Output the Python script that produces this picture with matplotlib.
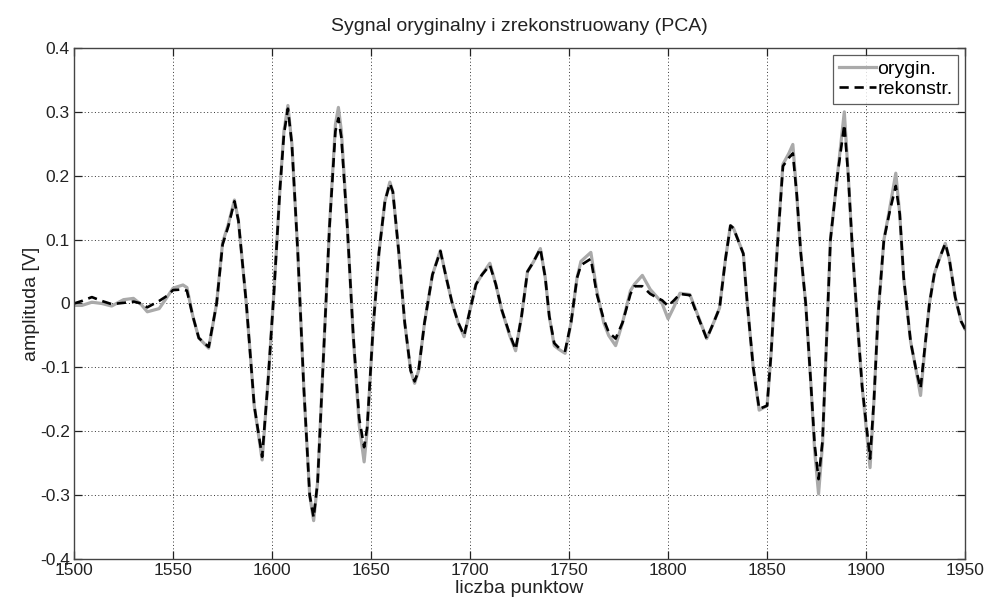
import matplotlib
matplotlib.use("Agg")
import matplotlib.pyplot as plt
from matplotlib.ticker import FuncFormatter

plt.rcParams['font.family'] = ['Liberation Sans', 'DejaVu Sans']
plt.rcParams['axes.unicode_minus'] = False

# sample index, original signal, PCA reconstruction
idx = [1500, 1504, 1509, 1514, 1519, 1525, 1530, 1534, 1537, 1543, 1547, 1550,
       1555, 1557, 1560, 1563, 1568, 1572, 1575, 1578, 1581, 1583, 1587, 1591,
       1595, 1598, 1601, 1604, 1606, 1608, 1610, 1613, 1616, 1619, 1621, 1623,
       1626, 1629, 1632, 1633.5, 1635, 1638, 1641, 1644, 1646.5, 1648, 1651, 1654,
       1657, 1659.5, 1661, 1664, 1667, 1670, 1672, 1674, 1677, 1681, 1685, 1688,
       1691, 1694, 1697, 1700, 1703, 1706, 1710, 1713, 1716, 1720, 1723, 1726,
       1729, 1732, 1735.5, 1738, 1740, 1742.5, 1745, 1748, 1751, 1754, 1756, 1761,
       1764, 1767.5, 1770, 1773.5, 1777, 1781, 1783, 1787, 1791, 1795, 1797, 1800,
       1803, 1806, 1811, 1814, 1819.5, 1823, 1826, 1829, 1831.5, 1833, 1838, 1840,
       1843, 1846, 1850, 1852, 1855, 1858, 1861, 1863, 1865, 1867, 1869.5, 1872,
       1874, 1876, 1878, 1880, 1882, 1885.5, 1889, 1891, 1893, 1895.5, 1898, 1902,
       1904, 1906, 1909, 1912, 1915, 1917, 1919, 1922.5, 1925, 1927.5, 1930, 1932,
       1934.5, 1937, 1940, 1942, 1945, 1948, 1950]

orig = [-0.003, -0.003, 0.002, 0.000, -0.004, 0.006, 0.008, -0.002, -0.013, -0.008, 0.010, 0.024,
        0.029, 0.025, -0.020, -0.054, -0.070, 0.000, 0.095, 0.125, 0.162, 0.130, 0.000, -0.160,
        -0.245, -0.120, 0.020, 0.180, 0.270, 0.310, 0.250, 0.080, -0.130, -0.300, -0.340, -0.280,
        -0.080, 0.120, 0.280, 0.307, 0.270, 0.120, -0.050, -0.190, -0.248, -0.200, -0.040, 0.080,
        0.160, 0.190, 0.175, 0.080, -0.030, -0.105, -0.125, -0.105, -0.030, 0.045, 0.083, 0.040,
        0.000, -0.030, -0.052, -0.010, 0.030, 0.045, 0.063, 0.030, -0.010, -0.050, -0.074, -0.020,
        0.050, 0.065, 0.086, 0.040, -0.020, -0.066, -0.072, -0.078, -0.030, 0.040, 0.066, 0.080,
        0.020, -0.030, -0.050, -0.066, -0.030, 0.020, 0.030, 0.044, 0.022, 0.008, 0.000, -0.024,
        -0.005, 0.016, 0.014, -0.010, -0.055, -0.030, -0.007, 0.070, 0.122, 0.118, 0.078, 0.000,
        -0.100, -0.167, -0.160, -0.080, 0.080, 0.218, 0.235, 0.249, 0.170, 0.080, 0.000, -0.120,
        -0.230, -0.298, -0.220, -0.060, 0.100, 0.200, 0.300, 0.200, 0.090, -0.024, -0.130, -0.257,
        -0.150, -0.020, 0.100, 0.150, 0.204, 0.140, 0.040, -0.060, -0.100, -0.144, -0.060, 0.000,
        0.047, 0.070, 0.094, 0.070, 0.010, -0.028, -0.040]

rekon = [0.000, 0.004, 0.010, 0.004, -0.001, 0.001, 0.003, 0.000, -0.006, 0.004, 0.012, 0.021,
         0.022, 0.020, -0.020, -0.054, -0.068, 0.000, 0.092, 0.122, 0.160, 0.130, 0.000, -0.160,
         -0.240, -0.120, 0.020, 0.180, 0.265, 0.305, 0.250, 0.080, -0.130, -0.300, -0.335, -0.280,
         -0.080, 0.120, 0.270, 0.290, 0.260, 0.120, -0.050, -0.180, -0.225, -0.195, -0.040, 0.080,
         0.160, 0.188, 0.175, 0.080, -0.030, -0.105, -0.122, -0.105, -0.030, 0.045, 0.082, 0.040,
         0.000, -0.030, -0.050, -0.010, 0.030, 0.045, 0.060, 0.030, -0.010, -0.048, -0.072, -0.020,
         0.050, 0.065, 0.086, 0.040, -0.020, -0.062, -0.070, -0.074, -0.030, 0.040, 0.060, 0.070,
         0.015, -0.025, -0.045, -0.055, -0.030, 0.015, 0.027, 0.027, 0.015, 0.008, 0.005, -0.004,
         0.005, 0.015, 0.013, -0.012, -0.055, -0.030, -0.007, 0.070, 0.122, 0.118, 0.078, 0.000,
         -0.100, -0.165, -0.160, -0.080, 0.080, 0.215, 0.228, 0.235, 0.170, 0.080, 0.000, -0.120,
         -0.220, -0.275, -0.215, -0.060, 0.100, 0.200, 0.280, 0.200, 0.090, -0.024, -0.130, -0.243,
         -0.150, -0.020, 0.100, 0.145, 0.184, 0.140, 0.040, -0.060, -0.100, -0.133, -0.060, 0.000,
         0.047, 0.070, 0.094, 0.070, 0.010, -0.028, -0.040]

xticks = [1500, 1550, 1600, 1650, 1700, 1750, 1800, 1850, 1900, 1950]
yticks = [-0.4, -0.3, -0.2, -0.1, 0, 0.1, 0.2, 0.3, 0.4]

fig = plt.figure(figsize=(9.86, 6.03), dpi=100)
ax = fig.add_axes([0.0751, 0.073, 0.9037, 0.8474])

ax.plot(idx, orig, color='#aaaaaa', lw=2.3, label='orygin.')
ax.plot(idx, rekon, color='black', lw=1.9, dashes=(3.5, 2.2), label='rekonstr.')

ax.set_xlim(1500, 1950)
ax.set_ylim(-0.4, 0.4)
ax.set_xticks(xticks)
ax.set_yticks(yticks)
ax.yaxis.set_major_formatter(FuncFormatter(lambda v, p: '0' if abs(v) < 1e-9 else '%g' % v))
ax.tick_params(direction='in', length=6, width=0.9, top=True, right=True,
               labelsize=12.5, colors='#222222', pad=3)
ax.grid(True, color='#333333', linestyle=(0, (1, 2.5)), linewidth=0.7)
for s in ax.spines.values():
    s.set_color('#444444')
    s.set_linewidth(1.0)

ax.set_title('Sygnal oryginalny i zrekonstruowany (PCA)', fontsize=14, color='#222222', pad=12)
ax.set_xlabel('liczba punktow', fontsize=14, color='#222222', labelpad=1)
ax.set_ylabel('amplituda [V]', fontsize=14, color='#222222', labelpad=0)

leg = ax.legend(loc='upper right', fontsize=14, frameon=True, fancybox=False,
                handlelength=1.9, handletextpad=0.05, borderpad=0.3, labelspacing=0.1,
                borderaxespad=0.35)
leg.get_frame().set_edgecolor('#333333')
leg.get_frame().set_linewidth(0.9)

fig.savefig('out.png', dpi=100)
